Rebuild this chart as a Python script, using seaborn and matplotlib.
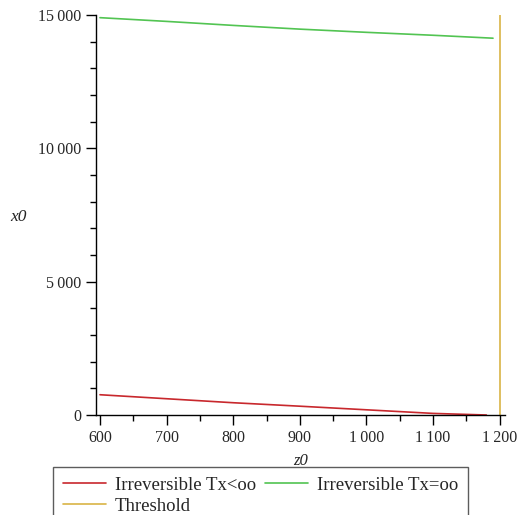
import matplotlib
matplotlib.use("Agg")
import matplotlib.pyplot as plt
import matplotlib.ticker as mticker
import pandas as pd
import seaborn as sns

# === data ===
z_red = [600, 700, 800, 900, 1000, 1100, 1180]
x0_red = [760, 610, 460, 330, 195, 60, 0]

z_green = [600, 700, 800, 900, 1000, 1100, 1190]
x0_green = [14900, 14760, 14610, 14470, 14350, 14240, 14130]

threshold_z = [1200, 1200]
threshold_x0 = [0, 15000]

labels = ["Irreversible Tx<oo", "Irreversible Tx=oo", "Threshold"]
colors = ["#c8282d", "#52c452", "#d9b446"]

x_ticks = [600, 700, 800, 900, 1000, 1100, 1200]
y_ticks = [0, 5000, 10000, 15000]

sns.set_style("white")
plt.rcParams["font.family"] = ["Liberation Serif", "DejaVu Serif"]

fig = plt.figure(figsize=(5.17, 5.15), dpi=100)
ax = fig.add_axes([96 / 517, 100 / 515, 409 / 517, 400 / 515])

df_red = pd.DataFrame({"z0": z_red, "x0": x0_red})
df_green = pd.DataFrame({"z0": z_green, "x0": x0_green})
df_thr = pd.DataFrame({"z0": threshold_z, "x0": threshold_x0})

sns.lineplot(data=df_red, x="z0", y="x0", ax=ax, color=colors[0], lw=1.2,
             label=labels[0], estimator=None, sort=False)
sns.lineplot(data=df_green, x="z0", y="x0", ax=ax, color=colors[1], lw=1.2,
             label=labels[1], estimator=None, sort=False)
sns.lineplot(data=df_thr, x="z0", y="x0", ax=ax, color=colors[2], lw=1.2,
             label=labels[2], estimator=None, sort=False)

ax.set_xlim(594, 1208)
ax.set_ylim(0, 15000)

def thousands(v, pos):
    return f"{int(v):,}".replace(",", "\u2009")

ax.set_xticks(x_ticks)
ax.set_yticks(y_ticks)
ax.xaxis.set_major_formatter(mticker.FuncFormatter(thousands))
ax.yaxis.set_major_formatter(mticker.FuncFormatter(thousands))
ax.xaxis.set_minor_locator(mticker.MultipleLocator(50))
ax.yaxis.set_minor_locator(mticker.MultipleLocator(1000))
ax.tick_params(axis="both", which="major", direction="out", length=7,
               width=1, color="black", labelsize=11.5, bottom=True, left=True)
ax.tick_params(axis="both", which="minor", direction="out", length=4,
               width=1, color="black", bottom=True, left=True)

for side in ["top", "right"]:
    ax.spines[side].set_visible(False)
for side in ["left", "bottom"]:
    ax.spines[side].set_color("black")
    ax.spines[side].set_linewidth(1)

ax.set_xlabel("z0", fontsize=12, style="italic", labelpad=5)
ax.set_ylabel("x0", fontsize=12.5, style="italic", rotation=0, va="center")
ax.yaxis.set_label_coords(-0.19, 0.495)

handles, lbls = ax.get_legend_handles_labels()
ax.get_legend().remove()
order = [0, 2, 1]
fig.legend([handles[i] for i in order], [lbls[i] for i in order],
           loc="upper center", bbox_to_anchor=(0.504, 0.094), ncol=2,
           frameon=True, fancybox=False, edgecolor="#333333", fontsize=13.5,
           handlelength=2.3, handletextpad=0.45, columnspacing=0.5,
           borderpad=0.55, labelspacing=0.2, borderaxespad=0)

fig.savefig("out.png", dpi=100)
